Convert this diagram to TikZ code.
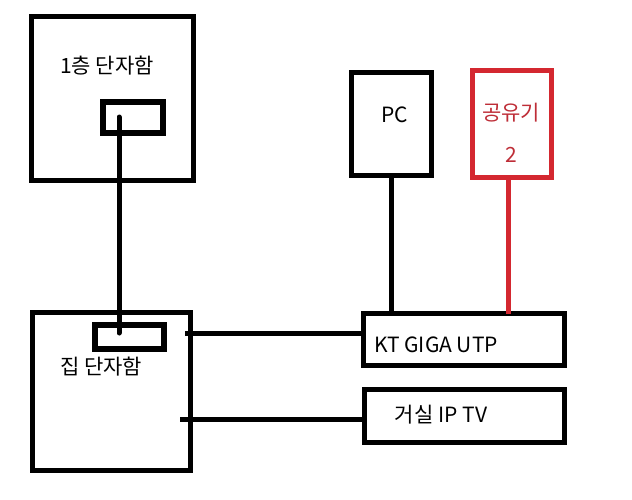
\documentclass[tikz,border=0pt]{standalone}
\usepackage{fontspec}
\setmainfont{Noto Sans CJK KR}
\definecolor{redline}{RGB}{212,40,48}
\definecolor{redtext}{RGB}{190,45,55}
\begin{document}
\begin{tikzpicture}[x=1pt,y=-1pt,
  box/.style={draw=black, line width=5pt, inner sep=0pt, outer sep=0pt},
  inbox/.style={draw=black, line width=5.5pt, inner sep=0pt, outer sep=0pt},
  rbox/.style={draw=redline, line width=5pt, inner sep=0pt, outer sep=0pt},
  wire/.style={draw=black, line width=5pt, line cap=round},
  rwire/.style={draw=redline, line width=5pt},
  lbl/.style={inner sep=0pt, font=\fontsize{21}{21}\selectfont}]
\useasboundingbox[fill=white] (0,0) rectangle (632,499);
% boxes
\node[box, minimum width=162pt, minimum height=164pt] (b1) at (112.5,98.5) {};
\node[inbox, minimum width=60pt, minimum height=31pt] (i1) at (133,117.5) {};
\node[box, minimum width=158pt, minimum height=158pt] (b2) at (111.5,391.5) {};
\node[inbox, minimum width=69pt, minimum height=24pt] (i2) at (129.5,337) {};
\node[box, minimum width=80pt, minimum height=103pt] (pc) at (391.5,124) {};
\node[rbox, minimum width=79pt, minimum height=107pt] (rt) at (512,124) {};
\node[box, minimum width=201pt, minimum height=52pt] (kt) at (464,339.5) {};
\node[box, minimum width=200pt, minimum height=53pt] (tv) at (464.5,416) {};
% labels
\node[lbl] (t1) at (107,66) {1층 단자함};
\node[lbl] (t2) at (101,367) {집 단자함};
\node[lbl] (t3) at (395,115) {PC};
\node[lbl, text=redtext] (t4) at (511,113) {공유기};
\node[lbl, text=redtext] (t5) at (511,155) {2};
\node[lbl] (t6) at (436,345) {KT GIGA UTP};
\node[lbl] (t7) at (441,415) {거실 IP TV};
% connector endpoints
\coordinate (c1) at (119,117);
\coordinate (c2) at (119,333);
\coordinate (l1) at (185,333);
\coordinate (l2) at (180,419);
\coordinate (rs) at (508,177.5);
% connectors
\draw[wire] (c1) -- (c2);
\draw[wire, line cap=butt] (pc.south) -- (pc.south |- kt.north);
\draw[rwire] (rs) -- (rs |- kt.north);
\draw[wire, line cap=butt] (l1) -- (l1 -| kt.west);
\draw[wire, line cap=butt] (l2) -- (l2 -| tv.west);
\end{tikzpicture}
\end{document}
